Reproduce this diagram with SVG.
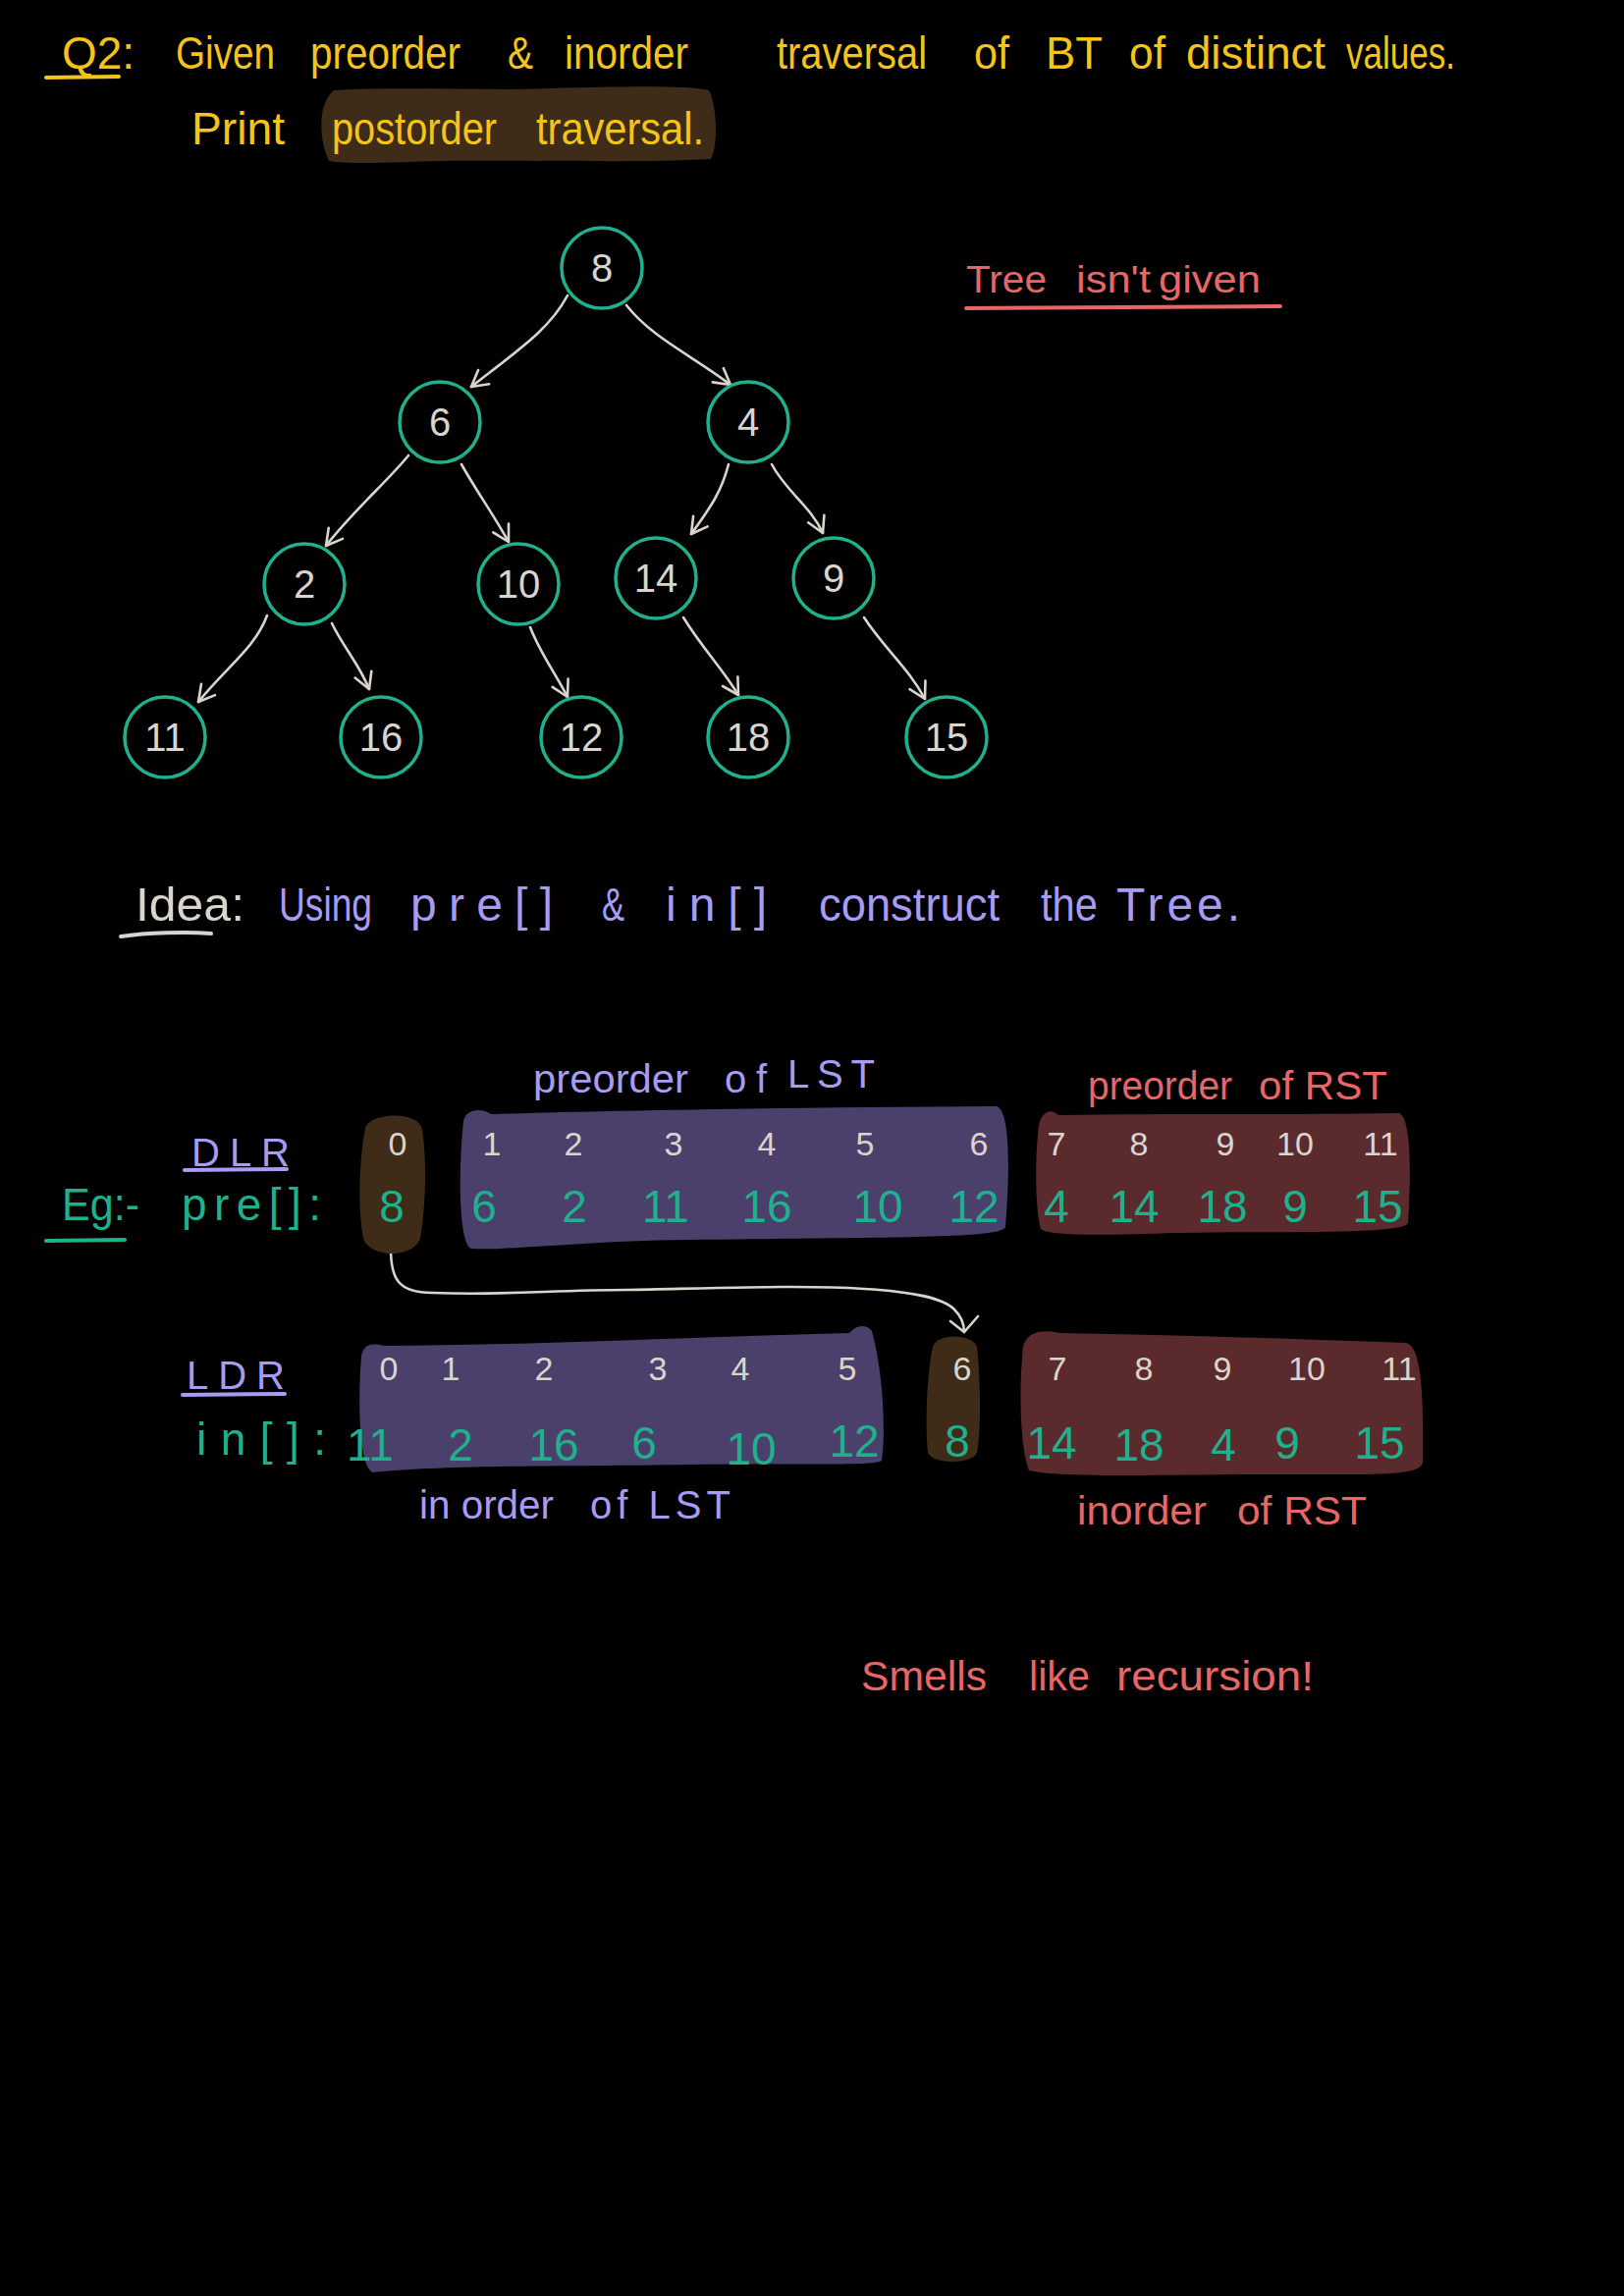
<svg xmlns="http://www.w3.org/2000/svg" width="1654" height="2339" viewBox="0 0 1654 2339">
<defs>
<style>
text{font-family:"Liberation Sans","DejaVu Sans",sans-serif;}
.y{fill:#f4c41a;font-size:46px;}
.g{fill:#d9d5cc;}
.t{fill:#20b08d;}
.l{fill:#a89bf3;}
.r{fill:#e86666;}
.nd{fill:#d9d5cc;font-size:40px;text-anchor:middle;}
.circ{fill:none;stroke:#20b08d;stroke-width:3.5;}
.edge{fill:none;stroke:#d9d5cc;stroke-width:2.6;stroke-linecap:round;marker-end:url(#arr);}
.idx{fill:#d9d5cc;font-size:34px;text-anchor:middle;}
.val{fill:#20b08d;font-size:46px;text-anchor:middle;}
.ul{fill:none;stroke-width:4;stroke-linecap:round;}
</style>
<marker id="arr" viewBox="-18 -11 20 22" refX="0" refY="0" markerWidth="20" markerHeight="22" markerUnits="userSpaceOnUse" orient="auto">
<path d="M-16,-9 L0,0 L-16,9" fill="none" stroke="#d9d5cc" stroke-width="2.6" stroke-linecap="round" stroke-linejoin="round"/>
</marker>
</defs>
<rect x="0" y="0" width="1654" height="2339" fill="#000"/>

<g id="title">
<path d="M340,92 C420,88 500,93 560,90 C640,88 700,87 722,92 C731,110 731,150 724,162 C650,166 560,163 450,164 C400,165 360,168 335,164 C324,140 324,105 340,92 Z" fill="#3e2c18"/>
<text class="y" x="63" y="70" textLength="74" lengthAdjust="spacingAndGlyphs">Q2:</text>
<path class="ul" d="M47,79 L121,78" stroke="#f4c41a"/>
<text class="y" x="179" y="70" textLength="101" lengthAdjust="spacingAndGlyphs">Given</text>
<text class="y" x="316" y="70" textLength="153" lengthAdjust="spacingAndGlyphs">preorder</text>
<text class="y" x="517" y="70" textLength="26" lengthAdjust="spacingAndGlyphs">&amp;</text>
<text class="y" x="575" y="70" textLength="126" lengthAdjust="spacingAndGlyphs">inorder</text>
<text class="y" x="791" y="70" textLength="153" lengthAdjust="spacingAndGlyphs">traversal</text>
<text class="y" x="992" y="70" textLength="36" lengthAdjust="spacingAndGlyphs">of</text>
<text class="y" x="1065" y="70" textLength="58" lengthAdjust="spacingAndGlyphs">BT</text>
<text class="y" x="1150" y="70" textLength="37" lengthAdjust="spacingAndGlyphs">of</text>
<text class="y" x="1208" y="70" textLength="142" lengthAdjust="spacingAndGlyphs">distinct</text>
<text class="y" x="1371" y="70" textLength="111" lengthAdjust="spacingAndGlyphs">values.</text>
<text class="y" x="195" y="147" textLength="95" lengthAdjust="spacingAndGlyphs">Print</text>
<text class="y" x="338" y="147" textLength="168" lengthAdjust="spacingAndGlyphs">postorder</text>
<text class="y" x="546" y="147" textLength="171" lengthAdjust="spacingAndGlyphs">traversal.</text>
</g>

<g id="connectors">
<path class="edge" d="M578,301 C560,335 530,355 480,394"/>
<path class="edge" d="M638,311 C665,345 705,362 744,392"/>
<path class="edge" d="M416,464 C395,490 360,520 332,556"/>
<path class="edge" d="M470,473 C485,500 500,520 518,552"/>
<path class="edge" d="M742,473 C735,500 725,515 704,544"/>
<path class="edge" d="M786,473 C800,500 825,515 838,543"/>
<path class="edge" d="M272,627 C260,660 230,680 202,715"/>
<path class="edge" d="M338,635 C350,660 365,675 376,702"/>
<path class="edge" d="M540,639 C550,665 565,685 578,710"/>
<path class="edge" d="M696,629 C715,660 735,680 752,708"/>
<path class="edge" d="M880,629 C900,660 925,680 942,712"/>
<path d="M398,1272 C398,1302 405,1317 440,1317 C520,1320 560,1314 640,1314 C740,1312 820,1309 880,1313 C930,1316 960,1322 972,1334 C980,1342 982,1350 982,1357" fill="none" stroke="#d9d5cc" stroke-width="2.6" stroke-linecap="round"/>
<path d="M968,1346 L982,1357 L996,1341" fill="none" stroke="#d9d5cc" stroke-width="2.6" stroke-linecap="round" stroke-linejoin="round"/>
</g>

<g id="n8"><circle class="circ" cx="613" cy="273" r="41"/><text class="nd" x="613" y="287">8</text></g>
<g id="n6"><circle class="circ" cx="448" cy="430" r="41"/><text class="nd" x="448" y="444">6</text></g>
<g id="n4"><circle class="circ" cx="762" cy="430" r="41"/><text class="nd" x="762" y="444">4</text></g>
<g id="n2"><circle class="circ" cx="310" cy="595" r="41"/><text class="nd" x="310" y="609">2</text></g>
<g id="n10"><circle class="circ" cx="528" cy="595" r="41"/><text class="nd" x="528" y="609">10</text></g>
<g id="n14"><circle class="circ" cx="668" cy="589" r="41"/><text class="nd" x="668" y="603">14</text></g>
<g id="n9"><circle class="circ" cx="849" cy="589" r="41"/><text class="nd" x="849" y="603">9</text></g>
<g id="n11"><circle class="circ" cx="168" cy="751" r="41"/><text class="nd" x="168" y="765">11</text></g>
<g id="n16"><circle class="circ" cx="388" cy="751" r="41"/><text class="nd" x="388" y="765">16</text></g>
<g id="n12"><circle class="circ" cx="592" cy="751" r="41"/><text class="nd" x="592" y="765">12</text></g>
<g id="n18"><circle class="circ" cx="762" cy="751" r="41"/><text class="nd" x="762" y="765">18</text></g>
<g id="n15"><circle class="circ" cx="964" cy="751" r="41"/><text class="nd" x="964" y="765">15</text></g>

<g id="note-tree">
<text class="r" x="984" y="298" font-size="38" textLength="82" lengthAdjust="spacingAndGlyphs">Tree</text>
<text class="r" x="1096" y="298" font-size="38" textLength="76" lengthAdjust="spacingAndGlyphs">isn't</text>
<text class="r" x="1180" y="298" font-size="38" textLength="104" lengthAdjust="spacingAndGlyphs">given</text>
<path class="ul" d="M984,314 L1304,312" stroke="#e86666"/>
</g>

<g id="idea">
<text class="g" x="138" y="938" font-size="48" textLength="111" lengthAdjust="spacingAndGlyphs">Idea:</text>
<path class="ul" d="M123,954 C150,950 190,949 215,951" stroke="#d9d5cc"/>
<text class="l" x="284" y="938" font-size="48" textLength="95" lengthAdjust="spacingAndGlyphs">Using</text>
<text class="l" x="418" y="938" font-size="48" textLength="145" lengthAdjust="spacing">pre[]</text>
<text class="l" x="613" y="938" font-size="48" textLength="23" lengthAdjust="spacingAndGlyphs">&amp;</text>
<text class="l" x="678" y="938" font-size="48" textLength="103" lengthAdjust="spacing">in[]</text>
<text class="l" x="834" y="938" font-size="48" textLength="184" lengthAdjust="spacingAndGlyphs">construct</text>
<text class="l" x="1060" y="938" font-size="48" textLength="58" lengthAdjust="spacingAndGlyphs">the</text>
<text class="l" x="1137" y="938" font-size="48" textLength="126" lengthAdjust="spacing">Tree.</text>
</g>

<g id="pre-array">
<path id="pre-root" d="M372,1150 C374,1134 425,1130 430,1150 C436,1190 432,1240 428,1262 C420,1282 378,1282 370,1262 C364,1230 366,1180 372,1150 Z" fill="#3e2c18"/>
<path id="pre-lst" d="M472,1142 C474,1130 490,1128 500,1135 C600,1132 800,1128 1015,1127 C1030,1132 1028,1200 1024,1250 C1020,1262 900,1260 700,1263 C600,1264 520,1274 480,1272 C468,1268 466,1200 472,1142 Z" fill="#4a406b"/>
<path id="pre-rst" d="M1058,1146 C1062,1130 1072,1130 1078,1136 C1200,1134 1300,1136 1425,1134 C1438,1140 1437,1200 1434,1246 C1430,1258 1300,1254 1200,1256 C1130,1258 1070,1260 1060,1252 C1054,1230 1054,1180 1058,1146 Z" fill="#5b2a2c"/>
<text class="l" x="543" y="1113" font-size="40" textLength="158" lengthAdjust="spacingAndGlyphs">preorder</text>
<text class="l" x="738" y="1113" font-size="40" textLength="43" lengthAdjust="spacing">of</text>
<text class="l" x="802" y="1108" font-size="40" textLength="89" lengthAdjust="spacing">LST</text>
<text class="r" x="1108" y="1120" font-size="40" textLength="147" lengthAdjust="spacingAndGlyphs">preorder</text>
<text class="r" x="1282" y="1120" font-size="40" textLength="131" lengthAdjust="spacingAndGlyphs">of RST</text>
<text class="l" x="195" y="1188" font-size="40" textLength="100" lengthAdjust="spacing">DLR</text>
<path class="ul" d="M188,1192 L292,1191" stroke="#a89bf3"/>
<text class="t" x="63" y="1243" font-size="46" textLength="79" lengthAdjust="spacingAndGlyphs">Eg:-</text>
<path class="ul" d="M47,1264 L127,1263" stroke="#20b08d"/>
<text class="t" x="185" y="1243" font-size="46" textLength="142" lengthAdjust="spacing">pre[]:</text>
<text class="idx" x="405" y="1177">0</text>
<text class="idx" x="501" y="1177">1</text>
<text class="idx" x="584" y="1177">2</text>
<text class="idx" x="686" y="1177">3</text>
<text class="idx" x="781" y="1177">4</text>
<text class="idx" x="881" y="1177">5</text>
<text class="idx" x="997" y="1177">6</text>
<text class="idx" x="1076" y="1177">7</text>
<text class="idx" x="1160" y="1177">8</text>
<text class="idx" x="1248" y="1177">9</text>
<text class="idx" x="1319" y="1177">10</text>
<text class="idx" x="1406" y="1177">11</text>
<text class="val" x="399" y="1245">8</text>
<text class="val" x="493" y="1245">6</text>
<text class="val" x="585" y="1245">2</text>
<text class="val" x="678" y="1245">11</text>
<text class="val" x="781" y="1245">16</text>
<text class="val" x="894" y="1245">10</text>
<text class="val" x="992" y="1245">12</text>
<text class="val" x="1076" y="1245">4</text>
<text class="val" x="1155" y="1245">14</text>
<text class="val" x="1245" y="1245">18</text>
<text class="val" x="1319" y="1245">9</text>
<text class="val" x="1403" y="1245">15</text>
</g>

<g id="in-array">
<path id="in-lst" d="M368,1382 C370,1368 380,1368 392,1371 C550,1370 700,1362 865,1358 C872,1350 882,1348 888,1356 C900,1400 902,1460 898,1488 C890,1494 800,1490 700,1492 C600,1494 450,1492 380,1500 C366,1496 364,1430 368,1382 Z" fill="#4a406b"/>
<path id="in-root" d="M950,1372 C954,1358 990,1358 995,1372 C999,1410 999,1460 995,1480 C990,1492 950,1492 945,1480 C942,1450 944,1400 950,1372 Z" fill="#3e2c18"/>
<path id="in-rst" d="M1042,1372 C1046,1356 1062,1354 1080,1358 C1200,1360 1320,1364 1432,1368 C1448,1372 1450,1420 1449,1490 C1446,1504 1400,1502 1300,1502 C1200,1502 1080,1506 1048,1498 C1038,1470 1038,1410 1042,1372 Z" fill="#5b2a2c"/>
<text class="l" x="190" y="1415" font-size="40" textLength="100" lengthAdjust="spacing">LDR</text>
<path class="ul" d="M186,1421 L290,1420" stroke="#a89bf3"/>
<text class="t" x="200" y="1482" font-size="46" textLength="132" lengthAdjust="spacing">in[]:</text>
<text class="idx" x="396" y="1406">0</text>
<text class="idx" x="459" y="1406">1</text>
<text class="idx" x="554" y="1406">2</text>
<text class="idx" x="670" y="1406">3</text>
<text class="idx" x="754" y="1406">4</text>
<text class="idx" x="863" y="1406">5</text>
<text class="idx" x="980" y="1406">6</text>
<text class="idx" x="1077" y="1406">7</text>
<text class="idx" x="1165" y="1406">8</text>
<text class="idx" x="1245" y="1406">9</text>
<text class="idx" x="1331" y="1406">10</text>
<text class="idx" x="1425" y="1406">11</text>
<text class="val" x="377" y="1488">11</text>
<text class="val" x="469" y="1488">2</text>
<text class="val" x="564" y="1488">16</text>
<text class="val" x="656" y="1486">6</text>
<text class="val" x="765" y="1492">10</text>
<text class="val" x="870" y="1484">12</text>
<text class="val" x="975" y="1484">8</text>
<text class="val" x="1071" y="1486">14</text>
<text class="val" x="1160" y="1488">18</text>
<text class="val" x="1246" y="1488">4</text>
<text class="val" x="1311" y="1486">9</text>
<text class="val" x="1405" y="1486">15</text>
<text class="l" x="427" y="1547" font-size="40" textLength="137" lengthAdjust="spacingAndGlyphs">in order</text>
<text class="l" x="601" y="1547" font-size="40" textLength="143" lengthAdjust="spacing">of LST</text>
<text class="r" x="1097" y="1553" font-size="40" textLength="132" lengthAdjust="spacingAndGlyphs">inorder</text>
<text class="r" x="1260" y="1553" font-size="40" textLength="132" lengthAdjust="spacingAndGlyphs">of RST</text>
</g>

<g id="note-recursion">
<text class="r" x="877" y="1722" font-size="42" textLength="128" lengthAdjust="spacingAndGlyphs">Smells</text>
<text class="r" x="1048" y="1722" font-size="42" textLength="62" lengthAdjust="spacingAndGlyphs">like</text>
<text class="r" x="1137" y="1722" font-size="42" textLength="201" lengthAdjust="spacingAndGlyphs">recursion!</text>
</g>
</svg>
